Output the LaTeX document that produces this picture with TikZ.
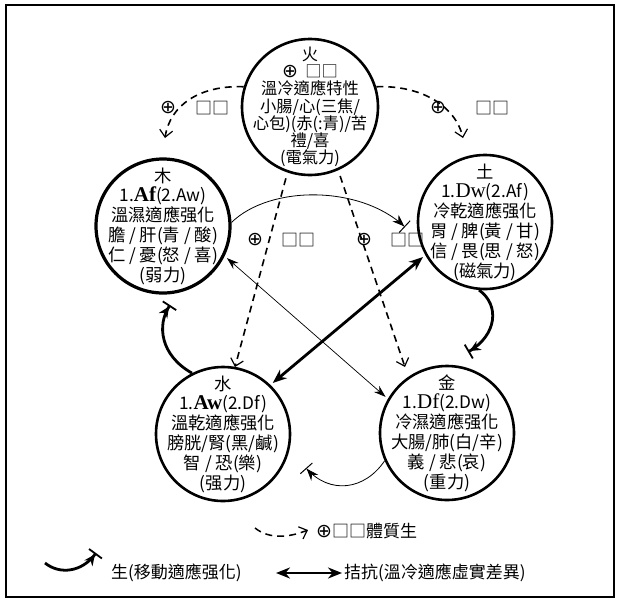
\documentclass[tikz,border=0pt]{standalone}
\usepackage{fontspec}
\setmainfont{Noto Sans CJK TC}
\newfontfamily\serf{Liberation Serif}
\newfontfamily\dvs{DejaVu Sans}
\usetikzlibrary{arrows.meta}
\newcommand{\opl}{{\dvs\fontsize{19}{19}\selectfont ⊕}}
\newcommand{\AFb}[1]{{\serf\bfseries\fontsize{21}{21}\selectfont #1}}
\newcommand{\DFr}[1]{{\serf\fontsize{21}{21}\selectfont #1}}
\begin{document}
\begin{tikzpicture}[x=1pt,y=-1pt,
  elem/.style={circle, draw, line width=2.6pt, minimum size=132pt, inner sep=0pt},
  etext/.style={inner sep=0pt, align=center, font=\fontsize{17.3}{19.8}\selectfont},
  gen/.style={line width=1.6pt, dash pattern=on 7pt off 5pt, -{Straight Barb[length=7pt,width=13pt,line width=1.2pt]}},
  sheng/.style={line width=2.8pt, -{Stealth[length=11pt,width=10pt]Bar[width=16pt,line width=1.8pt]}},
  shengthin/.style={line width=0.8pt, -{Stealth[length=12pt,width=9pt]Bar[width=16pt,line width=1pt]}},
  anta/.style={line width=2.8pt, {Stealth[length=14pt,width=11pt]}-{Stealth[length=14pt,width=11pt]}},
  antathin/.style={line width=0.7pt, {Stealth[length=12pt,width=8pt]}-{Stealth[length=12pt,width=8pt]}},
  lbl/.style={inner sep=0pt, font=\fontsize{17}{17}\selectfont},
  legtext/.style={inner sep=0pt, anchor=west, font=\fontsize{17}{17}\selectfont}]
\useasboundingbox (0,0) rectangle (621,603);
\draw[line width=1.1pt] (6,5) rectangle (614,597);

% elements
\node[elem, minimum size=136pt] (hu) at (310,107) {};
\node[etext, font=\fontsize{16.3}{17.2}\selectfont] (hut) at (hu.center)
  {火\\\opl\ \ □□\\溫冷適應特性\\小腸/心(三焦/\\心包)(赤(:青)/苦\\禮/喜\\(電氣力)};
\node[elem, line width=3.2pt, minimum size=134pt] (mu) at (163,226) {};
\node[etext] (mut) at (mu.center)
  {木\\1.\AFb{Af}(2.Aw)\\溫濕適應强化\\膽 / 肝(青 / 酸)\\仁 / 憂(怒 / 喜)\\(弱力)};
\node[elem, minimum size=134pt] (tu) at (485,222) {};
\node[etext] (tut) at (tu.center)
  {土\\1.\DFr{Dw}(2.Af)\\冷乾適應强化\\胃 / 脾(黃 / 甘)\\信 / 畏(思 / 怒)\\(磁氣力)};
\node[elem, minimum size=134pt] (sh) at (223,434) {};
\node[etext] (sht) at (sh.center)
  {水\\1.\AFb{Aw}(2.Df)\\溫乾適應强化\\膀胱/腎(黑/鹹)\\智 / 恐(樂)\\(强力)};
\node[elem, minimum size=134pt] (jin) at (447,433) {};
\node[etext] (jint) at (jin.center)
  {金\\1.\DFr{Df}(2.Dw)\\冷濕適應强化\\大腸/肺(白/辛)\\義 / 悲(哀)\\(重力)};

% free ends
\coordinate (t1) at (165,138);
\coordinate (t2) at (463,138);
\coordinate (t3) at (235,367);
\coordinate (t4) at (405,367);
\coordinate (s1) at (405,227);
\coordinate (s2) at (468,352);
\coordinate (s3) at (170,305);
\coordinate (s4) at (306,468);

% dashed arrows
\draw[gen] (hu.163) .. controls (200,85) and (170,105) .. (t1);
\draw[gen] (hu.17) .. controls (420,85) and (455,105) .. (t2);
\draw[gen, shorten <=6pt] (hu.-109) -- (t3);
\draw[gen, shorten <=6pt] (hu.-66) -- (t4);

% labels
\node[lbl] (l1a) at (168,108) {\opl};
\node[lbl] (l1b) at (212,108) {□□};
\node[lbl] (l2a) at (438,108) {\opl};
\node[lbl] (l2b) at (492,108) {□□};
\node[lbl] (l3a) at (255,240) {\opl};
\node[lbl] (l3b) at (298,240) {□□};
\node[lbl] (l4a) at (364,240) {\opl};
\node[lbl] (l4b) at (407,240) {□□};

% sheng arrows
\draw[shengthin] (mu.3) .. controls (270,185) and (360,185) .. (s1);
\draw[sheng] (tu.-95) .. controls (500,305) and (497,335) .. (s2);
\draw[sheng] (sh.117) .. controls (160,355) and (157,325) .. (s3);
\draw[shengthin] (jin.204) .. controls (365,490) and (330,495) .. (s4);

% antagonism
\draw[anta, shorten <=3pt, shorten >=3pt] (sh.46) -- (tu.209);
\draw[antathin, shorten <=3pt, shorten >=3pt] (mu.-26) -- (jin.150);

% legend
\coordinate (g1) at (255,528);
\coordinate (g2) at (308,530);
\draw[gen, line width=1.5pt] (g1) .. controls (270,540) and (290,537) .. (g2);
\node[legtext] (gt) at (316,531) {\opl□□體質生};
\coordinate (h1) at (45,563);
\coordinate (h2) at (96,553);
\draw[sheng] (h1) .. controls (60,575) and (82,572) .. (h2);
\node[legtext] (ht) at (111,573) {生(移動適應强化)};
\coordinate (k1) at (276,573);
\coordinate (k2) at (342,573);
\draw[anta, line width=2.4pt] (k1) -- (k2);
\node[legtext] (kt) at (344,573) {拮抗(溫冷適應虛實差異)};
\end{tikzpicture}
\end{document}
